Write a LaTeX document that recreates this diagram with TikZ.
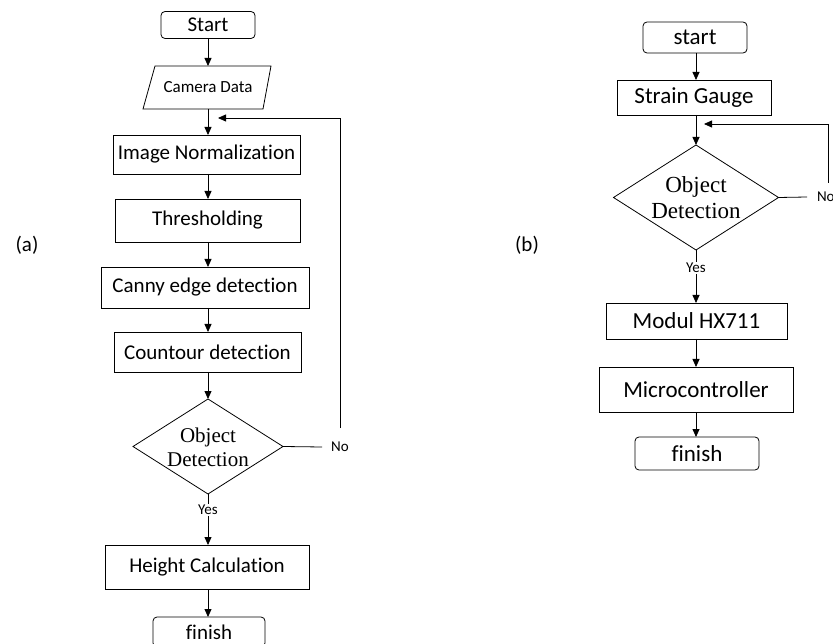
\documentclass[tikz,border=0pt]{standalone}
\usepackage{fontspec}
\setmainfont{Carlito}[Ligatures=NoCommon]
\newfontfamily\serifdia{Liberation Serif}
\usetikzlibrary{arrows.meta,shapes.geometric}
\begin{document}
\begin{tikzpicture}[x=1pt,y=-1pt,
  line width=0.8pt,
  every node/.style={inner sep=0pt,outer sep=0pt},
  arr/.style={-{Triangle[length=8pt,width=7pt]}},
  term/.style={draw,rounded corners=4pt},
  procbox/.style={draw},
  dia/.style={draw,diamond,aspect=1.6},
  lfont/.style={font=\fontsize{21}{23}\selectfont},
  rfont/.style={font=\fontsize{23}{25}\selectfont},
  lbl/.style={font=\fontsize{15}{17}\selectfont,fill=white,inner sep=1pt}
]
\useasboundingbox (0,0) rectangle (833,644);
% ---------------- (a) ----------------
\node[lfont] (la) at (27,245) {(a)};
\node[term,lfont,minimum width=94pt,minimum height=27pt] (s1) at (208,25) {Start};
\node[font=\fontsize{17}{19}\selectfont,minimum width=110pt,minimum height=43pt] (cam) at (208,87.5) {Camera Data};
\draw (143,109) -- (155,66) -- (271,66) -- (263,109) -- cycle;
\node[procbox,lfont,minimum width=187pt,minimum height=39pt] (norm) at (206.5,154.5) {Image Normalization};
\node[procbox,lfont,minimum width=185pt,minimum height=43pt] (thr) at (207.5,220.5) {Thresholding};
\node[procbox,lfont,minimum width=208pt,minimum height=41pt] (can) at (205,287.5) {Canny edge detection};
\node[procbox,lfont,minimum width=187pt,minimum height=40pt] (con) at (207.5,352) {Countour detection};
\node[dia,minimum width=150pt,minimum height=95pt] (od1) at (208,446.5) {};
\node[font=\serifdia\fontsize{21}{24}\selectfont,align=center] at (208,447) {Object\\Detection};
\node[procbox,lfont,minimum width=204pt,minimum height=44pt] (hc) at (207,567) {Height Calculation};
\node[term,lfont,minimum width=112pt,minimum height=30pt] (f1) at (209,632) {finish};
\coordinate (j1) at (208,118);
\coordinate (c1) at (340,118);
\coordinate (c1b) at (340,428);
\coordinate (n1end) at (322,447);
\node[lbl] (no1) at (340,447) {No};
\node[lbl] (yes1) at (208,510) {Yes};

\draw[arr] (s1.south) -- (s1.south |- cam.north);
\draw[arr] (208,109) -- (208,135);
\draw[arr] (c1b) -- (c1) -- ([xshift=10pt]j1);
\draw (od1.east) -- (n1end);
\draw[arr] (208,174) -- (208,199);
\draw[arr] (208,242) -- (208,267);
\draw[arr] (208,308) -- (208,332);
\draw[arr] (208,372) -- (od1.north);
\draw (od1.south) -- (yes1.north);
\draw[arr] (yes1.south) -- (208,545);
\draw[arr] (208,589) -- (208,617);

% ---------------- (b) ----------------
\node[lfont] (lb) at (527,245) {(b)};
\node[term,rfont,minimum width=104pt,minimum height=31pt] (s2) at (695,37.5) {start};
\node[procbox,rfont,minimum width=154pt,minimum height=35pt] (sg) at (694,97.5) {Strain Gauge};
\node[dia,minimum width=165pt,minimum height=105pt] (od2) at (696,197.5) {};
\node[font=\serifdia\fontsize{23}{26}\selectfont,align=center] at (696,198) {Object\\Detection};
\node[procbox,rfont,minimum width=181pt,minimum height=36pt] (hx) at (696.5,321) {Modul HX711};
\node[procbox,rfont,minimum width=194pt,minimum height=45pt] (mc) at (696,389.5) {Microcontroller};
\node[term,rfont,minimum width=124pt,minimum height=33pt] (f2) at (697,453.5) {finish};
\coordinate (j2) at (696,124);
\coordinate (c2) at (828,124);
\coordinate (c2b) at (828,183);
\coordinate (n2end) at (807,197);
\node[lbl,anchor=west] (no2) at (816,197) {No};
\node[lbl] (yes2) at (696,268) {Yes};

\draw[arr] (696,53) -- (696,80);
\draw[arr] (696,115) -- (od2.north);
\draw[arr] (c2b) -- (c2) -- ([xshift=8pt]j2);
\draw (od2.east) -- (n2end);
\draw (od2.south) -- (yes2.north);
\draw[arr] (yes2.south) -- (696,303);
\draw[arr] (696,339) -- (696,367);
\draw[arr] (696,412) -- (696,437);
\end{tikzpicture}
\end{document}
